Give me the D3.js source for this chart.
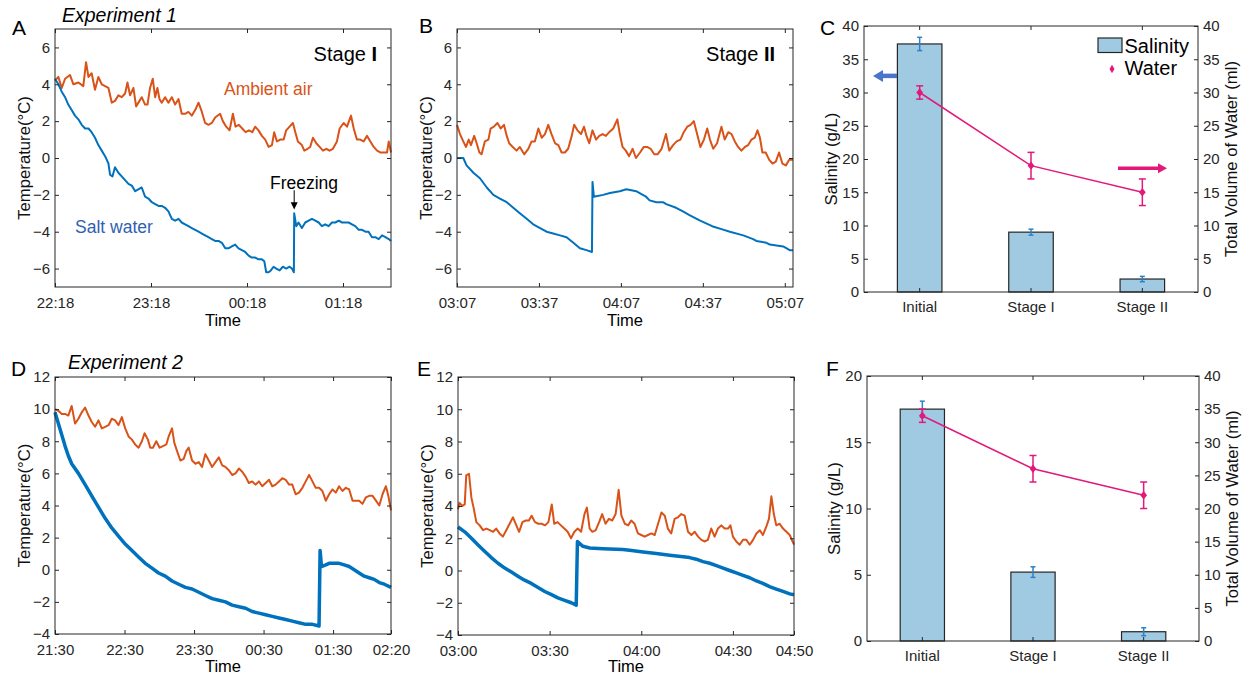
<!DOCTYPE html>
<html>
<head>
<meta charset="utf-8">
<script src="https://d3js.org/d3.v7.min.js"></script>
<style>
  body { margin: 0; background: #fff; }
  svg text { font-family: "Liberation Sans", Arial, sans-serif; }
</style>
</head>
<body>
<svg id="fig" width="1250" height="676"></svg>
<script>
// ---- data: [minutes from start, temperature °C] ----
const airA = [[0,4.2],[2.1,4.4],[4.2,3.8],[6.3,4.3],[9.4,4.5],[11.5,4.0],[14.6,4.1],[17.7,3.9],[19.4,5.2],[20.9,4.4],[22.9,4.6],[25,3.7],[27.1,4.4],[29.2,4.0],[31.3,3.9],[33.4,3.8],[35.5,3.0],[37.5,3.1],[39.6,3.4],[41.7,3.3],[43.8,3.5],[45.3,4.1],[46.9,3.4],[49,3.8],[50.7,2.8],[52.8,3.1],[54.2,3.3],[56.3,2.9],[57.8,2.9],[59.4,3.8],[61.1,4.3],[62.6,3.3],[64,3.8],[65.3,3.2],[66.7,3.0],[68.8,3.3],[70.9,3.0],[73,3.3],[75.1,2.9],[77.2,3.2],[79.2,2.4],[81.3,2.4],[83.4,2.5],[85.5,2.3],[87.6,2.6],[89.7,3.0],[91.8,2.5],[93.8,1.9],[95.9,1.8],[98,1.9],[100.1,2.2],[103.2,2.4],[104.9,2.0],[107,1.7],[109.1,1.5],[111.2,2.4],[112.8,1.7],[114.9,1.8],[117,1.6],[119.1,1.4],[121.2,1.5],[123.3,1.4],[125.1,1.7],[127.2,1.5],[129.3,1.2],[131.4,1.0],[133.5,0.6],[135.6,0.7],[137,1.4],[138.7,0.9],[140.8,1.0],[142.9,1.0],[144.5,1.5],[146.6,1.7],[148.7,1.9],[150.2,1.4],[151.8,0.9],[154.3,0.7],[155.8,0.4],[157.9,0.5],[159.5,0.6],[161.2,1.1],[163.3,0.8],[165.4,0.6],[167.5,0.4],[169.6,0.5],[171.6,0.4],[173.7,0.5],[176.2,0.9],[177.9,1.6],[180.4,1.9],[182.5,1.7],[185,2.3],[186.7,1.6],[188.7,1.0],[190.8,1.0],[192.9,0.9],[195,1.2],[197.1,0.9],[199.2,0.6],[201.3,0.4],[203.3,0.3],[205.4,0.3],[207.5,0.3],[208.6,0.9],[210,0.3]];
const saltA = [[0,4.3],[2.1,4.0],[4.2,3.6],[6.3,3.3],[8.3,2.9],[10.4,2.6],[12.5,2.3],[14.6,2.1],[16.7,1.8],[18.8,1.6],[20.9,1.6],[22.9,1.4],[25,1.1],[27.1,0.7],[29.2,0.4],[31.3,0.1],[33.4,-0.3],[34.4,-0.9],[35.9,-1.0],[37.5,-0.5],[39.6,-0.8],[41.7,-1.0],[43.8,-1.2],[45.9,-1.4],[48,-1.5],[50.1,-1.8],[52.1,-1.7],[54.2,-1.6],[56.3,-2.1],[58.4,-2.2],[60.5,-2.4],[62.6,-2.5],[64.7,-2.6],[66.7,-2.6],[68.8,-2.7],[70.9,-2.9],[73,-3.3],[75.1,-3.4],[77.2,-3.3],[79.2,-3.5],[81.3,-3.6],[83.4,-3.7],[85.5,-3.8],[87.6,-3.9],[89.7,-4.0],[91.8,-4.1],[93.8,-4.2],[95.9,-4.3],[98,-4.4],[100.1,-4.5],[102.2,-4.5],[104.3,-4.6],[106.4,-4.9],[108.4,-4.9],[110.5,-4.8],[112.6,-4.7],[114.7,-4.9],[116.8,-5.0],[118.9,-5.1],[121,-5.3],[123,-5.4],[125.1,-5.4],[127.2,-5.5],[129.3,-5.5],[130.8,-5.6],[132,-6.2],[133.5,-6.2],[134.9,-6.1],[136.6,-5.9],[138.3,-6.0],[140.4,-6.1],[142.4,-5.9],[144.5,-6.0],[146.6,-5.9],[148.1,-6.0],[149.3,-6.2],[149.5,-3.0],[150.8,-3.7],[152.2,-3.5],[154.3,-3.8],[156.4,-3.5],[158.5,-3.4],[160.6,-3.3],[162.7,-3.4],[164.8,-3.5],[166.8,-3.7],[168.9,-3.6],[171,-3.7],[173.1,-3.5],[175.2,-3.5],[177.3,-3.4],[179.4,-3.5],[181.4,-3.5],[183.5,-3.5],[185.6,-3.6],[187.7,-3.7],[189.8,-3.9],[191.9,-3.9],[194,-4.0],[196,-4.0],[198.1,-4.3],[200.2,-4.3],[202.3,-4.4],[204.4,-4.2],[206.5,-4.3],[208.6,-4.4],[210,-4.5]];

const airB = [[0,1.8],[1.1,1.3],[2.3,0.9],[3.3,0.6],[4.3,1.0],[5.1,0.7],[6.3,1.2],[7.2,0.8],[8.2,0.3],[9,0.2],[10.2,0.9],[11.5,1.0],[12.3,1.6],[13.5,1.7],[14.8,1.9],[16,1.6],[17.2,1.8],[18.2,1.2],[19.1,0.8],[20.4,0.6],[21.8,0.4],[23,0.6],[24.6,0.2],[26.1,0.5],[27.3,0.9],[28.5,0.9],[29.8,1.6],[31,1.1],[32.2,1.3],[33.4,1.8],[34.6,1.3],[35.9,0.8],[37.1,0.7],[38.3,0.3],[39.5,0.3],[40.7,0.5],[42,1.2],[42.9,1.8],[44.1,1.5],[45.4,1.3],[46.5,1.7],[47.4,1.2],[48.4,0.8],[49.6,1.5],[50.9,1.0],[52.1,1.2],[53.3,1.3],[54.5,1.2],[55.7,1.4],[57.2,1.6],[58.7,2.1],[59.6,1.3],[60.6,0.6],[61.8,0.4],[63,0.1],[64.3,0.5],[65.5,0.0],[67,0.3],[68.4,0.6],[69.6,0.6],[70.9,0.5],[72.2,0.2],[73.4,0.2],[74.9,0.5],[76.5,1.3],[77.7,0.4],[79.1,0.7],[80.4,0.9],[81.8,1.0],[83,1.4],[84.3,1.7],[85.5,1.8],[86.7,2.0],[87.9,1.3],[89.1,0.6],[90.4,1.0],[91.6,1.6],[92.6,1.0],[93.8,0.5],[95.2,0.8],[96.8,1.7],[98,1.0],[99.3,1.4],[100.5,1.3],[101.7,0.9],[102.9,0.6],[104.1,0.4],[105.4,0.6],[106.6,0.7],[107.8,1.0],[109,1.1],[110,1.5],[110.9,1.1],[111.8,0.3],[113,0.3],[114.3,-0.1],[115.5,-0.3],[116.7,-0.2],[117.9,0.3],[119.1,-0.3],[120.4,-0.4],[121.6,-0.1],[123,-0.1]];
const saltB = [[0,0.0],[2.3,0.0],[3.5,-0.4],[6,-0.8],[8.4,-1.1],[10.9,-1.6],[13.3,-2.0],[15.7,-2.2],[18.2,-2.4],[20.6,-2.7],[23,-3.0],[25.5,-3.3],[27.9,-3.6],[30.4,-3.8],[32.8,-4.0],[35.2,-4.1],[37.7,-4.2],[40.1,-4.3],[42.6,-4.6],[45,-4.9],[47.4,-5.0],[49.4,-5.1],[49.6,-1.3],[50.1,-2.1],[53.5,-2.0],[56,-1.9],[59.6,-1.8],[62,-1.7],[65.6,-1.8],[68,-2.0],[69.2,-2.1],[70.5,-2.3],[73,-2.4],[75.4,-2.4],[76.6,-2.5],[80.2,-2.7],[82.7,-2.9],[85.1,-3.1],[89,-3.4],[92,-3.6],[93.4,-3.7],[97.7,-3.9],[99.9,-4.0],[104.8,-4.2],[108.4,-4.4],[109.6,-4.5],[113.3,-4.6],[114.5,-4.7],[119.4,-4.8],[121.8,-5.0],[123,-5.0]];

const airD = [[0,10.0],[2.9,9.9],[5.8,9.7],[8.7,9.7],[11.5,9.6],[14.4,10.2],[17.3,9.1],[20.2,9.4],[23.1,9.8],[26,10.1],[28.9,9.6],[31.7,9.2],[34.6,8.9],[37.5,9.3],[40.4,8.8],[43.3,8.9],[46.2,9.0],[49,9.4],[51.9,9.3],[54.8,9.0],[57.7,9.5],[60.6,8.8],[63.5,8.3],[66.4,8.1],[69.2,7.8],[72.1,7.6],[75,8.0],[77.3,8.5],[80.2,8.1],[82.2,7.6],[84.5,7.6],[87.4,8.0],[90.3,7.6],[93.2,7.7],[96.1,7.8],[98.1,8.3],[101,8.8],[103,7.9],[105.3,7.4],[108.2,6.8],[111.1,6.9],[113.4,7.4],[115.4,7.6],[118.3,6.8],[121.2,6.6],[124.1,6.7],[126.9,6.4],[129.8,7.2],[132.7,6.8],[135.6,6.4],[138.5,6.7],[141.4,7.0],[144.3,6.5],[147.1,6.4],[150,6.2],[152.9,5.9],[155.8,6.0],[158.7,6.3],[161.6,6.1],[164.5,5.8],[167.3,5.4],[170.2,5.5],[173.1,5.3],[176,5.5],[178.9,5.2],[181.8,5.4],[184.7,5.6],[187.5,5.2],[190.4,5.3],[193.3,5.5],[196.2,5.7],[199.1,5.6],[202,5.3],[204.8,5.3],[207.7,4.7],[210.6,4.8],[213.5,5.1],[216.4,5.5],[219.3,5.9],[222.2,5.5],[225,5.1],[227.9,5.1],[230.8,4.9],[233.7,4.3],[236.6,4.7],[239.5,5.0],[242.4,4.8],[245.2,5.2],[248.1,4.9],[251,5.1],[253.9,5.0],[256.8,4.3],[259.7,4.3],[262.5,4.3],[265.4,4.1],[268.3,4.5],[271.2,4.6],[274.1,4.6],[277,4.3],[279.9,4.0],[282.7,4.7],[285.6,5.2],[287.7,4.6],[290,3.7]];
const saltD = [[0,9.8],[2.9,9.1],[5.8,8.4],[8.7,7.7],[11.5,7.1],[14.4,6.6],[20.2,6.0],[26,5.3],[31.7,4.6],[37.5,3.9],[43.3,3.2],[49,2.6],[54.8,2.1],[60.6,1.6],[66.4,1.2],[72.1,0.8],[77.9,0.4],[83.7,0.1],[89.4,-0.2],[95.2,-0.4],[101,-0.7],[106.8,-0.9],[112.5,-1.1],[118.3,-1.2],[124.1,-1.4],[129.8,-1.6],[135.6,-1.8],[141.4,-1.9],[147.1,-2.0],[152.9,-2.2],[158.7,-2.3],[164.5,-2.4],[170.2,-2.6],[176,-2.7],[181.8,-2.8],[187.5,-2.9],[193.3,-3.0],[199.1,-3.1],[204.8,-3.2],[210.6,-3.3],[216.4,-3.4],[222.2,-3.4],[227.9,-3.5],[228.8,1.2],[230,0.2],[233.7,0.3],[236.6,0.4],[240.9,0.4],[245.2,0.4],[249.6,0.3],[253.9,0.2],[258.2,0.0],[262.5,-0.2],[266.9,-0.4],[271.2,-0.5],[275.5,-0.6],[279.9,-0.8],[284.2,-0.9],[290,-1.1]];

const airE = [[0,3.8],[0.5,4.2],[1.4,4.0],[2.2,4.1],[2.7,5.9],[3.6,6.0],[4.4,4.5],[5.1,3.9],[6,3.0],[7.1,2.8],[8.2,2.5],[9.3,2.6],[10.4,2.5],[11.5,2.4],[12.5,2.6],[13.6,2.3],[14.7,2.1],[15.8,2.5],[16.9,2.9],[18,3.3],[19.1,2.8],[20,2.4],[21.1,3.0],[22.2,3.1],[23.2,3.1],[24.1,3.4],[25.2,3.0],[26.3,2.9],[27.4,2.9],[28.5,2.8],[29.6,3.0],[30.7,4.1],[31.5,2.9],[32.6,3.0],[33.7,2.8],[34.8,2.6],[35.9,2.4],[37,2.0],[38.1,2.4],[39.2,2.6],[40.3,2.4],[41.4,3.5],[42.2,3.9],[43.1,2.6],[44,2.4],[45.1,2.5],[46.2,3.0],[47.2,3.5],[48.3,2.9],[49.4,3.2],[50.5,3.1],[51.6,3.5],[52.6,5.0],[53.5,3.4],[54.6,2.9],[55.7,2.8],[56.7,3.1],[57.8,2.9],[58.9,2.3],[60,2.2],[61.1,2.1],[62.2,2.2],[63.3,2.3],[64.4,2.2],[65.5,2.9],[66.6,3.6],[67.7,3.4],[68.7,2.6],[69.8,2.3],[70.9,3.2],[72,3.3],[73.1,3.5],[74.2,3.4],[75.3,2.4],[76.4,2.2],[77.5,2.4],[78.6,2.1],[79.7,1.9],[80.8,1.8],[81.8,1.9],[82.9,2.6],[84,2.1],[85.1,2.6],[86.2,2.8],[87.3,2.6],[88.4,2.6],[89.2,2.8],[90,2.1],[91.1,1.8],[92.2,1.6],[93.3,1.9],[94.4,1.9],[95.5,1.6],[96.6,1.9],[97.7,2.3],[98.8,2.5],[99.8,2.2],[100.9,2.7],[101.8,3.2],[102.6,4.6],[103.4,3.5],[104.2,2.8],[105.3,2.9],[106.4,2.6],[107.5,2.4],[108.6,2.2],[110,1.6]];
const saltE = [[0,2.7],[2.2,2.4],[4.4,2.0],[6.5,1.6],[8.7,1.2],[10.9,0.8],[13.1,0.45],[15.3,0.15],[17.5,-0.1],[19.6,-0.35],[21.8,-0.6],[24,-0.8],[26.2,-1.05],[28.4,-1.3],[30.6,-1.5],[32.7,-1.7],[34.9,-1.85],[37.1,-2.0],[38.7,-2.15],[39.1,1.8],[40.9,1.5],[43.1,1.4],[47.5,1.35],[54,1.3],[56.2,1.25],[60.6,1.15],[64.9,1.05],[69.3,0.95],[73.7,0.85],[75.8,0.8],[78,0.7],[80.2,0.55],[82.4,0.45],[84.6,0.3],[86.8,0.15],[88.9,0.0],[91.1,-0.15],[93.3,-0.3],[95.5,-0.45],[97.7,-0.65],[99.8,-0.8],[102,-1.0],[104.2,-1.15],[106.4,-1.3],[108.6,-1.45],[110,-1.5]];

// time axis ticks (minutes from start) and their labels
const ticksA = [0, 60, 120, 180],            labelsA = ["22:18", "23:18", "00:18", "01:18"];
const ticksB = [0, 30, 60, 90, 120],         labelsB = ["03:07", "03:37", "04:07", "04:37", "05:07"];
const ticksD = [0, 60, 120, 180, 240, 290],  labelsD = ["21:30", "22:30", "23:30", "00:30", "01:30", "02:20"];
const ticksE = [0, 30, 60, 90, 110],         labelsE = ["03:00", "03:30", "04:00", "04:30", "04:50"];

// bar panels
const stages = ["Initial", "Stage I", "Stage II"];
const salinityC = [37.3, 9.0, 1.95], salinityErrC = [1.0, 0.45, 0.4];
const waterC = [30, 19, 15],         waterErrC = [1, 2, 2];
const salinityF = [17.5, 5.2, 0.7],  salinityErrF = [0.6, 0.4, 0.3];
const waterF = [34, 26, 22],         waterErrF = [1, 2, 2];

const svg = d3.select("#fig");
const orange = "#d95319", blue = "#0072bd", ink = "#262626";
const barFill = "#9fcae1", errBlue = "#2f80c8", pink = "#e2197b";

function label(x, y, txt, size, opts = {}) {
  return svg.append("text").attr("x", x).attr("y", y)
    .attr("font-size", size).attr("fill", opts.fill || "#000")
    .attr("text-anchor", opts.anchor || "start")
    .attr("font-style", opts.italic ? "italic" : null)
    .text(txt);
}
function vLabel(x, y, txt, size) {
  svg.append("text").attr("transform", `translate(${x},${y}) rotate(-90)`)
    .attr("text-anchor", "middle").attr("font-size", size).attr("fill", "#111").text(txt);
}
function styleAxis(g) {
  g.select(".domain").remove();
  g.selectAll(".tick line").attr("stroke", ink);
  g.selectAll(".tick text").attr("font-size", 15).attr("fill", ink)
    .attr("font-family", "Liberation Sans, Arial, sans-serif");
}

function tempPanel(o) {
  const x = d3.scaleLinear().domain(o.xDomain).range([o.x0, o.x1]);
  const y = d3.scaleLinear().domain(o.yDomain).range([o.y1, o.y0]);
  const g = svg.append("g");
  const line = d3.line().x(d => x(d[0])).y(d => y(d[1]));
  g.append("path").datum(o.air).attr("d", line).attr("fill", "none")
    .attr("stroke", orange).attr("stroke-width", 2).attr("stroke-linejoin", "round");
  g.append("path").datum(o.salt).attr("d", line).attr("fill", "none")
    .attr("stroke", blue).attr("stroke-width", o.saltW).attr("stroke-linejoin", "round");

  const yt = d3.range(o.yDomain[0] + o.yFirst, o.yDomain[1] + 0.01, 2);
  g.append("g").attr("transform", `translate(0,${o.y1})`)
    .call(d3.axisBottom(x).tickValues(o.ticks).tickFormat((d, i) => o.labels[i])
      .tickSize(-4).tickPadding(10.5)).call(styleAxis);
  g.append("g").attr("transform", `translate(0,${o.y0})`)
    .call(d3.axisTop(x).tickValues(o.ticks).tickFormat("").tickSize(-4)).call(styleAxis);
  g.append("g").attr("transform", `translate(${o.x0},0)`)
    .call(d3.axisLeft(y).tickValues(yt).tickFormat(d3.format("d")).tickSize(-4).tickPadding(5)).call(styleAxis);
  g.append("g").attr("transform", `translate(${o.x1},0)`)
    .call(d3.axisRight(y).tickValues(yt).tickFormat("").tickSize(-4)).call(styleAxis);
  g.append("rect").attr("x", o.x0).attr("y", o.y0).attr("width", o.x1 - o.x0).attr("height", o.y1 - o.y0)
    .attr("fill", "none").attr("stroke", ink).attr("stroke-width", 1);

  vLabel(o.x0 - 25, (o.y0 + o.y1) / 2, "Temperature(°C)", 16.7);
  label((o.x0 + o.x1) / 2, Math.min(o.y1 + 39, 672), "Time", 16.5, { anchor: "middle" });
  return { x, y };
}

function barPanel(o) {
  const x = d3.scaleBand().domain(stages).range([o.x0, o.x1]).paddingInner(0.6).paddingOuter(0.3);
  const yL = d3.scaleLinear().domain([0, o.leftMax]).range([o.y1, o.y0]);
  const yR = d3.scaleLinear().domain([0, 40]).range([o.y1, o.y0]);
  const g = svg.append("g");
  const cx = s => x(s) + x.bandwidth() / 2;

  g.selectAll("rect.bar").data(stages).join("rect").attr("class", "bar")
    .attr("x", d => x(d)).attr("width", x.bandwidth())
    .attr("y", (d, i) => yL(o.sal[i])).attr("height", (d, i) => o.y1 - yL(o.sal[i]))
    .attr("fill", barFill).attr("stroke", ink).attr("stroke-width", 1.2);

  function errBars(vals, errs, sc, color, cap, w) {
    stages.forEach((s, i) => {
      const c = cx(s), top = sc(vals[i] + errs[i]), bot = sc(vals[i] - errs[i]);
      g.append("line").attr("x1", c).attr("x2", c).attr("y1", top).attr("y2", bot)
        .attr("stroke", color).attr("stroke-width", w);
      [top, bot].forEach(yy => g.append("line").attr("x1", c - cap).attr("x2", c + cap)
        .attr("y1", yy).attr("y2", yy).attr("stroke", color).attr("stroke-width", w));
    });
  }
  errBars(o.sal, o.salErr, yL, errBlue, 2.5, 1.5);

  g.append("path").datum(o.water)
    .attr("d", d3.line().x((d, i) => cx(stages[i])).y(d => yR(d)))
    .attr("fill", "none").attr("stroke", pink).attr("stroke-width", 1.5);
  errBars(o.water, o.waterErr, yR, pink, 3.5, 1.5);
  g.selectAll("path.mk").data(o.water).join("path").attr("class", "mk")
    .attr("transform", (d, i) => `translate(${cx(stages[i])},${yR(d)}) scale(1.4,1)`)
    .attr("d", d3.symbol(d3.symbolDiamond, 20)).attr("fill", pink);

  g.append("g").attr("transform", `translate(0,${o.y1})`)
    .call(d3.axisBottom(x).tickSize(-4).tickPadding(9)).call(styleAxis);
  g.append("g").attr("transform", `translate(0,${o.y0})`)
    .call(d3.axisTop(x).tickFormat("").tickSize(-4)).call(styleAxis);
  g.append("g").attr("transform", `translate(${o.x0},0)`)
    .call(d3.axisLeft(yL).ticks(o.leftMax / 5).tickSize(-4).tickPadding(5)).call(styleAxis);
  g.append("g").attr("transform", `translate(${o.x1},0)`)
    .call(d3.axisRight(yR).ticks(8).tickSize(-4).tickPadding(5)).call(styleAxis);
  g.append("rect").attr("x", o.x0).attr("y", o.y0).attr("width", o.x1 - o.x0).attr("height", o.y1 - o.y0)
    .attr("fill", "none").attr("stroke", ink).attr("stroke-width", 1);

  vLabel(o.x0 - 27, (o.y0 + o.y1) / 2, "Salinity (g/L)", 16.7);
  vLabel(o.x1 + 39, (o.y0 + o.y1) / 2, "Total Volume of Water (ml)", 16.7);
  return { x, yL, yR, cx };
}

// ---- top row: Experiment 1 ----
const pA = tempPanel({ x0: 55, x1: 391, y0: 29, y1: 287, xDomain: [0, 210], yDomain: [-7, 7], yFirst: 1,
  air: airA, salt: saltA, saltW: 2, ticks: ticksA, labels: labelsA });
const pB = tempPanel({ x0: 457, x1: 793, y0: 29, y1: 287, xDomain: [0, 123], yDomain: [-7, 7], yFirst: 1,
  air: airB, salt: saltB, saltW: 2, ticks: ticksB, labels: labelsB });
const pC = barPanel({ x0: 864, x1: 1198, y0: 26, y1: 292, leftMax: 40,
  sal: salinityC, salErr: salinityErrC, water: waterC, waterErr: waterErrC });

// ---- bottom row: Experiment 2 ----
tempPanel({ x0: 55, x1: 391, y0: 377, y1: 634, xDomain: [0, 290], yDomain: [-4, 12], yFirst: 0,
  air: airD, salt: saltD, saltW: 3.5, ticks: ticksD, labels: labelsD });
tempPanel({ x0: 458, x1: 794, y0: 377, y1: 635, xDomain: [0, 110], yDomain: [-4, 12], yFirst: 0,
  air: airE, salt: saltE, saltW: 3.5, ticks: ticksE, labels: labelsE });
barPanel({ x0: 867, x1: 1199, y0: 376, y1: 641, leftMax: 20,
  sal: salinityF, salErr: salinityErrF, water: waterF, waterErr: waterErrF });

// ---- annotations ----
[["A", 12, 35], ["B", 419, 33], ["C", 820, 35], ["D", 11, 376], ["E", 417, 376], ["F", 826, 376]]
  .forEach(([t, x, y]) => label(x, y, t, 21));
label(62, 22, "Experiment 1", 19.5, { italic: true });
label(68, 369, "Experiment 2", 19.5, { italic: true });

const stA = label(377, 61, "Stage ", 20, { anchor: "end" });
stA.append("tspan").attr("font-weight", "bold").text("I");
const stB = label(775, 61, "Stage ", 20, { anchor: "end" });
stB.append("tspan").attr("font-weight", "bold").text("II");

label(224, 95, "Ambient air", 17.5, { fill: orange });
label(75, 233, "Salt water", 17.5, { fill: "#2f62b0" });

// freezing marker at the jump in panel A
const freezeT = 149.5;
label(270, 189, "Freezing", 17.5);
const fx = pA.x(freezeT);
svg.append("line").attr("x1", fx).attr("x2", fx).attr("y1", pA.y(-1.75)).attr("y2", pA.y(-2.45))
  .attr("stroke", "#000").attr("stroke-width", 1);
svg.append("path").attr("d", `M${fx - 3.5},${pA.y(-2.4)} L${fx + 3.5},${pA.y(-2.4)} L${fx},${pA.y(-2.8)} Z`)
  .attr("fill", "#000");

// legend in C
const lg = svg.append("g").attr("transform", "translate(1098,38)");
lg.append("rect").attr("width", 24).attr("height", 14.5).attr("fill", barFill).attr("stroke", ink).attr("stroke-width", 1.2);
lg.append("text").attr("x", 26.5).attr("y", 14.5).attr("font-size", 20).attr("fill", "#000").text("Salinity");
lg.append("path").attr("transform", "translate(14,31) scale(1.05,1)")
  .attr("d", d3.symbol(d3.symbolDiamond, 20)).attr("fill", pink);
lg.append("text").attr("x", 26.5).attr("y", 37).attr("font-size", 20).attr("fill", "#000").text("Water");

// direction arrows in C
function arrow(x1, x2, yy, color, w, headL, headH) {
  const dir = Math.sign(x2 - x1);
  svg.append("line").attr("x1", x1).attr("x2", x2 - dir * headL).attr("y1", yy).attr("y2", yy)
    .attr("stroke", color).attr("stroke-width", w);
  svg.append("path").attr("d", `M${x2},${yy} L${x2 - dir * headL},${yy - headH / 2} L${x2 - dir * headL},${yy + headH / 2} Z`)
    .attr("fill", color);
}
arrow(897, 873, pC.yL(32.5), "#4a76c8", 4.5, 10, 12);
arrow(1118, 1167, pC.yR(18.6), pink, 3.5, 9, 10);
</script>
</body>
</html>
